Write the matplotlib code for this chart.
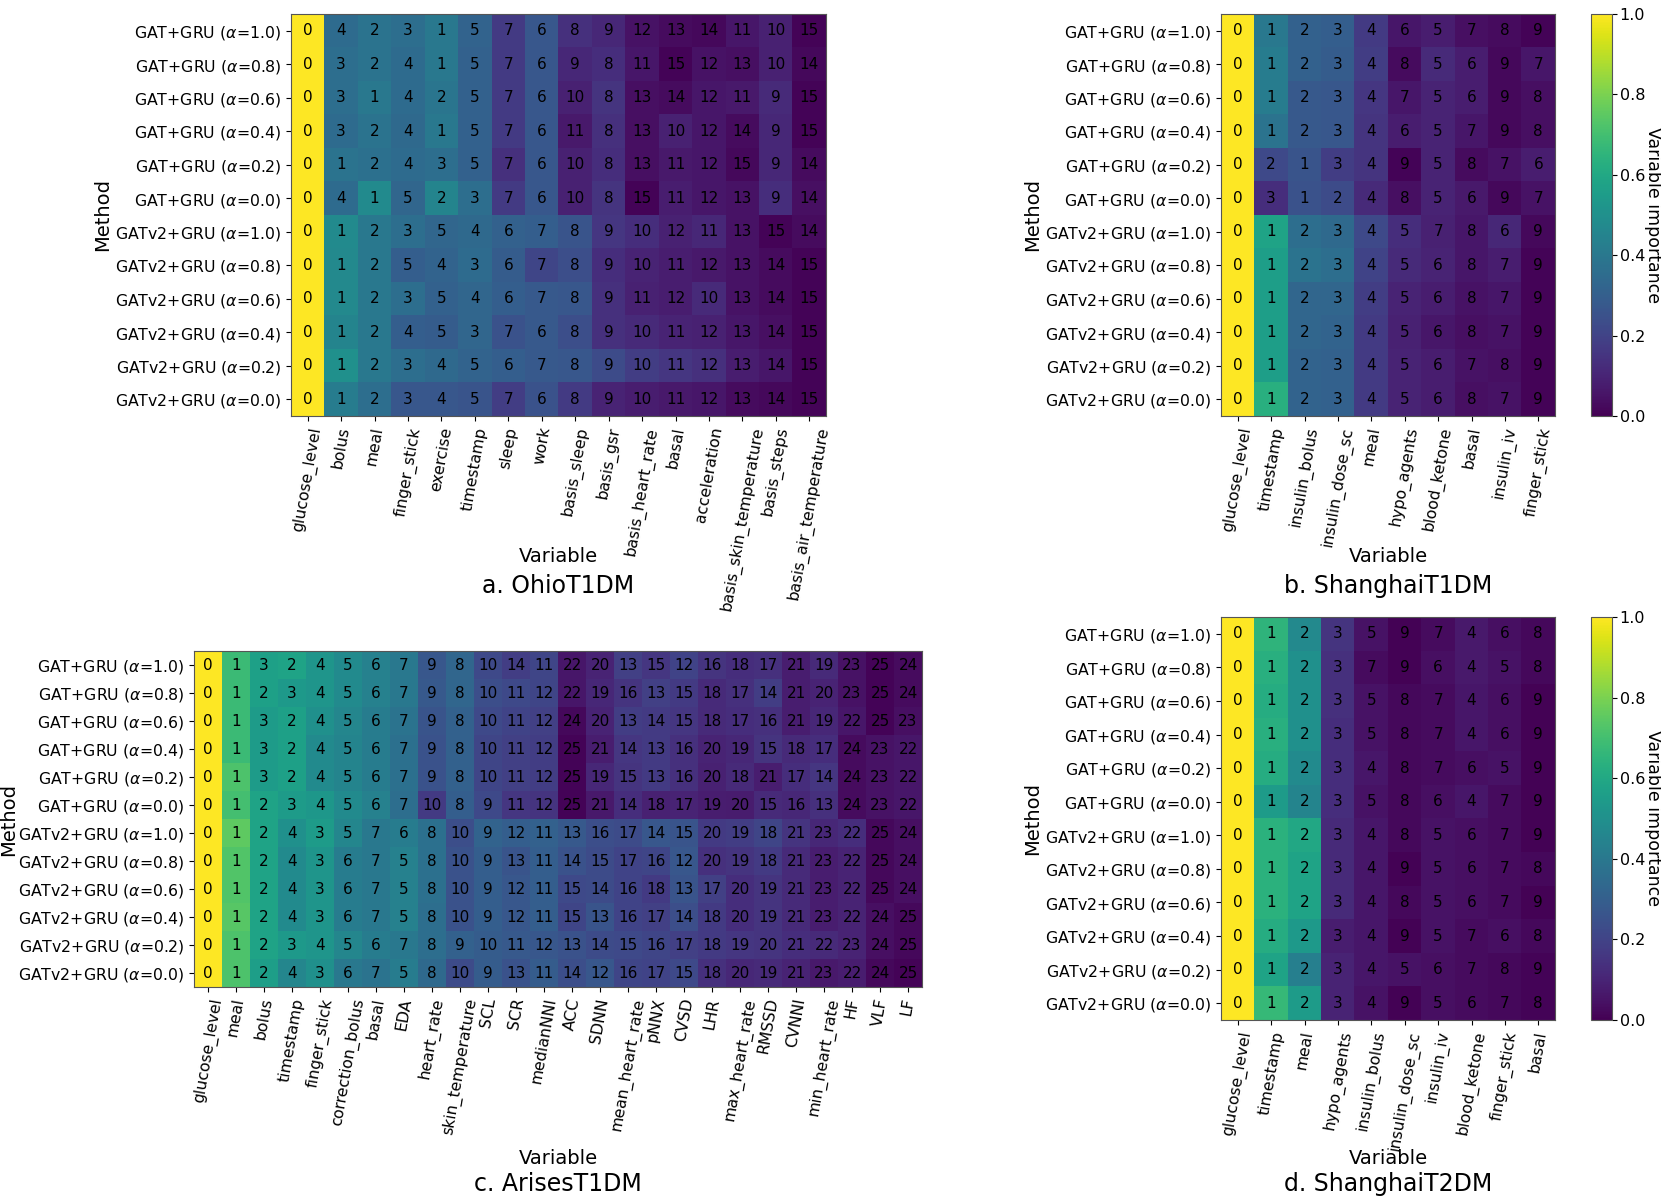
import numpy as np
import matplotlib
matplotlib.use("Agg")
import matplotlib.pyplot as plt

W, H = 1661, 1197

methods = ["GAT+GRU ($\\alpha$=1.0)", "GAT+GRU ($\\alpha$=0.8)", "GAT+GRU ($\\alpha$=0.6)",
           "GAT+GRU ($\\alpha$=0.4)", "GAT+GRU ($\\alpha$=0.2)", "GAT+GRU ($\\alpha$=0.0)",
           "GATv2+GRU ($\\alpha$=1.0)", "GATv2+GRU ($\\alpha$=0.8)", "GATv2+GRU ($\\alpha$=0.6)",
           "GATv2+GRU ($\\alpha$=0.4)", "GATv2+GRU ($\\alpha$=0.2)", "GATv2+GRU ($\\alpha$=0.0)"]

# ---------------- a. OhioT1DM ----------------
vars_a = ["glucose_level", "bolus", "meal", "finger_stick", "exercise", "timestamp", "sleep", "work",
          "basis_sleep", "basis_gsr", "basis_heart_rate", "basal", "acceleration",
          "basis_skin_temperature", "basis_steps", "basis_air_temperature"]
rank_a = [
    [0, 4, 2, 3, 1, 5, 7, 6, 8, 9, 12, 13, 14, 11, 10, 15],
    [0, 3, 2, 4, 1, 5, 7, 6, 9, 8, 11, 15, 12, 13, 10, 14],
    [0, 3, 1, 4, 2, 5, 7, 6, 10, 8, 13, 14, 12, 11, 9, 15],
    [0, 3, 2, 4, 1, 5, 7, 6, 11, 8, 13, 10, 12, 14, 9, 15],
    [0, 1, 2, 4, 3, 5, 7, 6, 10, 8, 13, 11, 12, 15, 9, 14],
    [0, 4, 1, 5, 2, 3, 7, 6, 10, 8, 15, 11, 12, 13, 9, 14],
    [0, 1, 2, 3, 5, 4, 6, 7, 8, 9, 10, 12, 11, 13, 15, 14],
    [0, 1, 2, 5, 4, 3, 6, 7, 8, 9, 10, 11, 12, 13, 14, 15],
    [0, 1, 2, 3, 5, 4, 6, 7, 8, 9, 11, 12, 10, 13, 14, 15],
    [0, 1, 2, 4, 5, 3, 7, 6, 8, 9, 10, 11, 12, 13, 14, 15],
    [0, 1, 2, 3, 4, 5, 6, 7, 8, 9, 10, 11, 12, 13, 14, 15],
    [0, 1, 2, 3, 4, 5, 7, 6, 8, 9, 10, 11, 12, 13, 14, 15],
]
imp_a = [
    [1.0, 0.35, 0.38, 0.36, 0.40, 0.32, 0.17, 0.27, 0.14, 0.11, 0.05, 0.03, 0.02, 0.06, 0.09, 0.01],
    [1.0, 0.36, 0.38, 0.35, 0.40, 0.31, 0.17, 0.27, 0.11, 0.13, 0.06, 0.01, 0.05, 0.04, 0.09, 0.02],
    [1.0, 0.36, 0.40, 0.35, 0.39, 0.31, 0.17, 0.27, 0.09, 0.15, 0.04, 0.03, 0.06, 0.07, 0.12, 0.01],
    [1.0, 0.35, 0.38, 0.34, 0.40, 0.31, 0.17, 0.27, 0.07, 0.14, 0.04, 0.09, 0.06, 0.03, 0.11, 0.01],
    [1.0, 0.38, 0.37, 0.35, 0.36, 0.31, 0.14, 0.27, 0.09, 0.13, 0.04, 0.07, 0.06, 0.02, 0.11, 0.03],
    [1.0, 0.35, 0.48, 0.33, 0.45, 0.36, 0.17, 0.27, 0.09, 0.15, 0.01, 0.08, 0.06, 0.05, 0.13, 0.04],
    [1.0, 0.48, 0.40, 0.36, 0.33, 0.34, 0.31, 0.30, 0.26, 0.16, 0.13, 0.09, 0.11, 0.05, 0.01, 0.03],
    [1.0, 0.47, 0.40, 0.30, 0.32, 0.35, 0.29, 0.21, 0.24, 0.13, 0.10, 0.08, 0.07, 0.05, 0.03, 0.01],
    [1.0, 0.47, 0.40, 0.36, 0.31, 0.33, 0.30, 0.28, 0.27, 0.14, 0.09, 0.08, 0.12, 0.05, 0.03, 0.01],
    [1.0, 0.45, 0.40, 0.30, 0.29, 0.33, 0.25, 0.28, 0.24, 0.14, 0.12, 0.10, 0.09, 0.06, 0.04, 0.01],
    [1.0, 0.50, 0.40, 0.36, 0.34, 0.32, 0.30, 0.28, 0.27, 0.23, 0.18, 0.16, 0.14, 0.08, 0.06, 0.01],
    [1.0, 0.42, 0.36, 0.27, 0.27, 0.26, 0.18, 0.25, 0.17, 0.10, 0.08, 0.07, 0.06, 0.03, 0.02, 0.01],
]

# ---------------- b. ShanghaiT1DM ----------------
vars_b = ["glucose_level", "timestamp", "insulin_bolus", "insulin_dose_sc", "meal", "hypo_agents",
          "blood_ketone", "basal", "insulin_iv", "finger_stick"]
rank_b = [
    [0, 1, 2, 3, 4, 6, 5, 7, 8, 9],
    [0, 1, 2, 3, 4, 8, 5, 6, 9, 7],
    [0, 1, 2, 3, 4, 7, 5, 6, 9, 8],
    [0, 1, 2, 3, 4, 6, 5, 7, 9, 8],
    [0, 2, 1, 3, 4, 9, 5, 8, 7, 6],
    [0, 3, 1, 2, 4, 8, 5, 6, 9, 7],
    [0, 1, 2, 3, 4, 5, 7, 8, 6, 9],
    [0, 1, 2, 3, 4, 5, 6, 8, 7, 9],
    [0, 1, 2, 3, 4, 5, 6, 8, 7, 9],
    [0, 1, 2, 3, 4, 5, 6, 8, 7, 9],
    [0, 1, 2, 3, 4, 5, 6, 7, 8, 9],
    [0, 1, 2, 3, 4, 5, 6, 8, 7, 9],
]
imp_b = [
    [1.0, 0.40, 0.31, 0.30, 0.17, 0.06, 0.08, 0.04, 0.03, 0.01],
    [1.0, 0.42, 0.31, 0.29, 0.18, 0.03, 0.12, 0.08, 0.02, 0.06],
    [1.0, 0.42, 0.28, 0.27, 0.16, 0.06, 0.10, 0.08, 0.02, 0.04],
    [1.0, 0.38, 0.28, 0.27, 0.15, 0.08, 0.10, 0.06, 0.02, 0.04],
    [1.0, 0.22, 0.26, 0.18, 0.15, 0.01, 0.10, 0.03, 0.05, 0.08],
    [1.0, 0.13, 0.25, 0.23, 0.12, 0.04, 0.10, 0.07, 0.02, 0.05],
    [1.0, 0.58, 0.36, 0.34, 0.22, 0.13, 0.09, 0.06, 0.11, 0.02],
    [1.0, 0.56, 0.38, 0.36, 0.20, 0.12, 0.10, 0.06, 0.08, 0.01],
    [1.0, 0.56, 0.33, 0.33, 0.18, 0.10, 0.08, 0.05, 0.06, 0.01],
    [1.0, 0.56, 0.33, 0.32, 0.17, 0.09, 0.06, 0.04, 0.05, 0.01],
    [1.0, 0.56, 0.32, 0.31, 0.17, 0.10, 0.08, 0.05, 0.04, 0.01],
    [1.0, 0.63, 0.32, 0.31, 0.17, 0.10, 0.08, 0.04, 0.05, 0.01],
]

# ---------------- c. ArisesT1DM ----------------
vars_c = ["glucose_level", "meal", "bolus", "timestamp", "finger_stick", "correction_bolus", "basal",
          "EDA", "heart_rate", "skin_temperature", "SCL", "SCR", "medianNNI", "ACC", "SDNN",
          "mean_heart_rate", "pNNX", "CVSD", "LHR", "max_heart_rate", "RMSSD", "CVNNI",
          "min_heart_rate", "HF", "VLF", "LF"]
rank_c = [
    [0, 1, 3, 2, 4, 5, 6, 7, 9, 8, 10, 14, 11, 22, 20, 13, 15, 12, 16, 18, 17, 21, 19, 23, 25, 24],
    [0, 1, 2, 3, 4, 5, 6, 7, 9, 8, 10, 11, 12, 22, 19, 16, 13, 15, 18, 17, 14, 21, 20, 23, 25, 24],
    [0, 1, 3, 2, 4, 5, 6, 7, 9, 8, 10, 11, 12, 24, 20, 13, 14, 15, 18, 17, 16, 21, 19, 22, 25, 23],
    [0, 1, 3, 2, 4, 5, 6, 7, 9, 8, 10, 11, 12, 25, 21, 14, 13, 16, 20, 19, 15, 18, 17, 24, 23, 22],
    [0, 1, 3, 2, 4, 5, 6, 7, 9, 8, 10, 11, 12, 25, 19, 15, 13, 16, 20, 18, 21, 17, 14, 24, 23, 22],
    [0, 1, 2, 3, 4, 5, 6, 7, 10, 8, 9, 11, 12, 25, 21, 14, 18, 17, 19, 20, 15, 16, 13, 24, 23, 22],
    [0, 1, 2, 4, 3, 5, 7, 6, 8, 10, 9, 12, 11, 13, 16, 17, 14, 15, 20, 19, 18, 21, 23, 22, 25, 24],
    [0, 1, 2, 4, 3, 6, 7, 5, 8, 10, 9, 13, 11, 14, 15, 17, 16, 12, 20, 19, 18, 21, 23, 22, 25, 24],
    [0, 1, 2, 4, 3, 6, 7, 5, 8, 10, 9, 12, 11, 15, 14, 16, 18, 13, 17, 20, 19, 21, 23, 22, 25, 24],
    [0, 1, 2, 4, 3, 6, 7, 5, 8, 10, 9, 12, 11, 15, 13, 16, 17, 14, 18, 20, 19, 21, 23, 22, 24, 25],
    [0, 1, 2, 3, 4, 5, 6, 7, 8, 9, 10, 11, 12, 13, 14, 15, 16, 17, 18, 19, 20, 21, 22, 23, 24, 25],
    [0, 1, 2, 4, 3, 6, 7, 5, 8, 10, 9, 13, 11, 14, 12, 16, 17, 15, 18, 20, 19, 21, 23, 22, 24, 25],
]
imp_c = [
    [1.0, 0.68, 0.57, 0.58, 0.52, 0.48, 0.44, 0.40, 0.27, 0.33, 0.22, 0.18, 0.21, 0.06, 0.10, 0.19, 0.16, 0.20, 0.15, 0.13, 0.14, 0.08, 0.12, 0.05, 0.01, 0.03],
    [1.0, 0.68, 0.57, 0.54, 0.52, 0.48, 0.44, 0.40, 0.28, 0.33, 0.24, 0.22, 0.21, 0.06, 0.11, 0.15, 0.19, 0.17, 0.12, 0.14, 0.18, 0.08, 0.10, 0.05, 0.01, 0.03],
    [1.0, 0.68, 0.55, 0.57, 0.50, 0.46, 0.42, 0.38, 0.26, 0.31, 0.22, 0.20, 0.19, 0.02, 0.10, 0.18, 0.17, 0.16, 0.12, 0.13, 0.14, 0.08, 0.11, 0.06, 0.01, 0.04],
    [1.0, 0.68, 0.55, 0.57, 0.48, 0.45, 0.42, 0.37, 0.25, 0.31, 0.21, 0.19, 0.18, 0.01, 0.08, 0.16, 0.17, 0.14, 0.10, 0.11, 0.15, 0.12, 0.13, 0.03, 0.05, 0.06],
    [1.0, 0.72, 0.55, 0.57, 0.48, 0.45, 0.42, 0.37, 0.25, 0.31, 0.21, 0.19, 0.18, 0.01, 0.11, 0.15, 0.17, 0.14, 0.09, 0.12, 0.08, 0.13, 0.16, 0.03, 0.05, 0.06],
    [1.0, 0.70, 0.58, 0.55, 0.53, 0.48, 0.44, 0.36, 0.17, 0.30, 0.22, 0.16, 0.15, 0.01, 0.07, 0.13, 0.09, 0.10, 0.08, 0.075, 0.12, 0.11, 0.14, 0.03, 0.05, 0.06],
    [1.0, 0.75, 0.58, 0.50, 0.55, 0.46, 0.40, 0.42, 0.37, 0.24, 0.32, 0.30, 0.31, 0.28, 0.24, 0.23, 0.27, 0.26, 0.17, 0.18, 0.21, 0.15, 0.11, 0.13, 0.02, 0.04],
    [1.0, 0.73, 0.58, 0.48, 0.52, 0.42, 0.40, 0.44, 0.37, 0.25, 0.30, 0.26, 0.30, 0.25, 0.23, 0.20, 0.21, 0.27, 0.14, 0.15, 0.17, 0.12, 0.08, 0.10, 0.02, 0.04],
    [1.0, 0.73, 0.58, 0.48, 0.52, 0.42, 0.40, 0.44, 0.37, 0.25, 0.30, 0.27, 0.30, 0.22, 0.23, 0.20, 0.17, 0.26, 0.19, 0.13, 0.15, 0.12, 0.08, 0.10, 0.02, 0.04],
    [1.0, 0.74, 0.58, 0.48, 0.52, 0.42, 0.40, 0.44, 0.36, 0.25, 0.30, 0.27, 0.30, 0.21, 0.26, 0.20, 0.19, 0.24, 0.17, 0.13, 0.15, 0.12, 0.08, 0.10, 0.04, 0.02],
    [1.0, 0.72, 0.58, 0.54, 0.52, 0.46, 0.42, 0.40, 0.36, 0.31, 0.29, 0.28, 0.27, 0.25, 0.23, 0.22, 0.21, 0.19, 0.17, 0.16, 0.15, 0.13, 0.12, 0.10, 0.04, 0.02],
    [1.0, 0.72, 0.56, 0.46, 0.50, 0.40, 0.38, 0.42, 0.34, 0.23, 0.29, 0.25, 0.29, 0.24, 0.27, 0.21, 0.20, 0.22, 0.14, 0.11, 0.12, 0.10, 0.07, 0.08, 0.02, 0.01],
]

# ---------------- d. ShanghaiT2DM ----------------
vars_d = ["glucose_level", "timestamp", "meal", "hypo_agents", "insulin_bolus", "insulin_dose_sc",
          "insulin_iv", "blood_ketone", "finger_stick", "basal"]
rank_d = [
    [0, 1, 2, 3, 5, 9, 7, 4, 6, 8],
    [0, 1, 2, 3, 7, 9, 6, 4, 5, 8],
    [0, 1, 2, 3, 5, 8, 7, 4, 6, 9],
    [0, 1, 2, 3, 5, 8, 7, 4, 6, 9],
    [0, 1, 2, 3, 4, 8, 7, 6, 5, 9],
    [0, 1, 2, 3, 5, 8, 6, 4, 7, 9],
    [0, 1, 2, 3, 4, 8, 5, 6, 7, 9],
    [0, 1, 2, 3, 4, 9, 5, 6, 7, 8],
    [0, 1, 2, 3, 4, 8, 5, 6, 7, 9],
    [0, 1, 2, 3, 4, 9, 5, 7, 6, 8],
    [0, 1, 2, 3, 4, 5, 6, 7, 8, 9],
    [0, 1, 2, 3, 4, 9, 5, 6, 7, 8],
]
imp_d = [
    [1.0, 0.65, 0.47, 0.15, 0.05, 0.005, 0.03, 0.07, 0.04, 0.02],
    [1.0, 0.63, 0.50, 0.14, 0.03, 0.005, 0.04, 0.07, 0.05, 0.02],
    [1.0, 0.62, 0.50, 0.14, 0.05, 0.02, 0.03, 0.06, 0.04, 0.005],
    [1.0, 0.63, 0.50, 0.13, 0.05, 0.02, 0.03, 0.06, 0.04, 0.005],
    [1.0, 0.62, 0.48, 0.13, 0.06, 0.02, 0.03, 0.04, 0.05, 0.005],
    [1.0, 0.55, 0.45, 0.13, 0.05, 0.02, 0.04, 0.06, 0.03, 0.005],
    [1.0, 0.64, 0.60, 0.12, 0.06, 0.02, 0.05, 0.04, 0.03, 0.005],
    [1.0, 0.64, 0.58, 0.12, 0.06, 0.005, 0.05, 0.04, 0.03, 0.02],
    [1.0, 0.64, 0.58, 0.12, 0.06, 0.02, 0.05, 0.04, 0.03, 0.005],
    [1.0, 0.62, 0.54, 0.08, 0.06, 0.005, 0.05, 0.03, 0.04, 0.02],
    [1.0, 0.58, 0.43, 0.10, 0.06, 0.05, 0.04, 0.03, 0.02, 0.01],
    [1.0, 0.67, 0.55, 0.10, 0.05, 0.005, 0.04, 0.03, 0.02, 0.01],
]

fig = plt.figure(figsize=(W / 100, H / 100), dpi=100)


def px_axes(l, t, r, b):
    return fig.add_axes([l / W, 1 - b / H, (r - l) / W, (b - t) / H])


def heat(box, imp, ranks, varnames, title, ylab_x, xlab_y, title_y, cbar_box=None):
    ax = px_axes(*box)
    data = np.array(imp)
    im = ax.imshow(data, cmap="viridis", vmin=0, vmax=1, aspect="auto", interpolation="nearest")
    ax.set_xticks(range(len(varnames)))
    ax.set_xticklabels(varnames, rotation=80, fontsize=11.3)
    ax.set_yticks(range(len(methods)))
    ax.set_yticklabels(methods, fontsize=11.3)
    for i, row in enumerate(ranks):
        for j, v in enumerate(row):
            ax.text(j, i, str(v), ha="center", va="center", fontsize=11, color="black")
    for s in ax.spines.values():
        s.set_color("#555555")
    cx = (box[0] + box[2]) / 2
    cy = (box[1] + box[3]) / 2
    fig.text(ylab_x / W, 1 - cy / H, "Method", rotation=90, ha="center", va="center", fontsize=14)
    fig.text(cx / W, 1 - xlab_y / H, "Variable", ha="center", va="center", fontsize=14)
    fig.text(cx / W, 1 - title_y / H, title, ha="center", va="center", fontsize=17)
    if cbar_box is not None:
        cax = px_axes(*cbar_box)
        cb = fig.colorbar(im, cax=cax)
        cb.set_ticks([0.0, 0.2, 0.4, 0.6, 0.8, 1.0])
        cb.ax.tick_params(labelsize=11.5, pad=2)
        cb.outline.set_edgecolor("#555555")
        ccy = (cbar_box[1] + cbar_box[3]) / 2
        fig.text(1653 / W, 1 - ccy / H, "Variable importance", rotation=270,
                 ha="center", va="center", fontsize=12.5)
    return ax


heat((291, 14, 826, 416), imp_a, rank_a, vars_a, "a. OhioT1DM", 103, 556, 586)
heat((1221, 14, 1555, 416), imp_b, rank_b, vars_b, "b. ShanghaiT1DM", 1033, 556, 586,
     cbar_box=(1591, 14, 1612, 416))
heat((194, 651, 922, 987), imp_c, rank_c, vars_c, "c. ArisesT1DM", 9, 1158, 1184)
heat((1221, 617, 1555, 1020), imp_d, rank_d, vars_d, "d. ShanghaiT2DM", 1033, 1158, 1184,
     cbar_box=(1591, 617, 1612, 1020))

fig.savefig("out.png", dpi=100)
